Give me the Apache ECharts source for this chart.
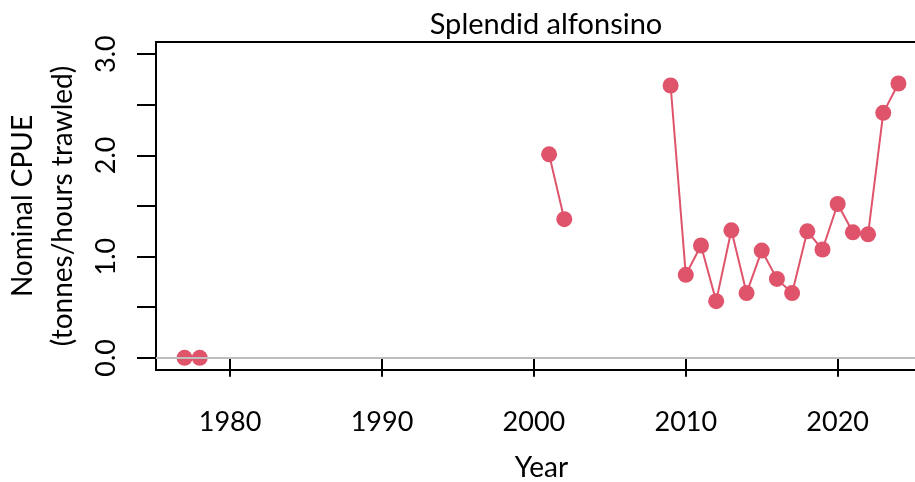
<!DOCTYPE html>
<html>
<head>
<meta charset="utf-8">
<script src="https://cdn.jsdelivr.net/npm/echarts@6/dist/echarts.min.js"></script>
<style>
html, body { margin: 0; padding: 0; background: #fff; }
#main { width: 915px; height: 482px; }
</style>
</head>
<body>
<div id="main"></div>
<script>
// years and nominal CPUE, null where no data
var years = [1977, 1978, 1979, 1980, 1981, 1982, 1983, 1984, 1985, 1986, 1987, 1988,
    1989, 1990, 1991, 1992, 1993, 1994, 1995, 1996, 1997, 1998, 1999, 2000,
    2001, 2002, 2003, 2004, 2005, 2006, 2007, 2008, 2009, 2010, 2011, 2012,
    2013, 2014, 2015, 2016, 2017, 2018, 2019, 2020, 2021, 2022, 2023, 2024];
var cpue = [0, 0, null, null, null, null, null, null, null, null, null, null,
    null, null, null, null, null, null, null, null, null, null, null, null,
    2.01, 1.37, null, null, null, null, null, null, 2.69, 0.82, 1.11, 0.56,
    1.26, 0.64, 1.06, 0.78, 0.64, 1.25, 1.07, 1.52, 1.24, 1.22, 2.42, 2.71];
var xTicks = [1980, 1990, 2000, 2010, 2020];
var yTicks = [0, 0.5, 1, 1.5, 2, 2.5, 3];
var yLabels = [0, 1, 2, 3];

var myChart = echarts.init(document.getElementById('main'));
var font = 'Lato';

var option = {
    animation: false,
    backgroundColor: '#fff',
    title: {
        text: 'Splendid alfonsino',
        left: 541,
        textAlign: 'center',
        top: 5,
        textStyle: { fontFamily: font, fontSize: 29, fontWeight: 'normal', color: '#000' }
    },
    grid: {
        left: 156,
        top: 42,
        right: -12,
        bottom: 112,
        outerBoundsMode: 'none',
        containLabel: false,
        show: true,
        borderColor: '#000',
        borderWidth: 2
    },
    xAxis: {
        type: 'value',
        min: 1975.12,
        max: 2025.88,
        name: 'Year',
        nameLocation: 'middle',
        nameGap: 84,
        nameTextStyle: { fontFamily: font, fontSize: 28, color: '#000' },
        splitLine: { show: false },
        axisLine: { show: false },
        axisTick: {
            show: true,
            length: 19,
            customValues: xTicks,
            lineStyle: { color: '#000', width: 2 }
        },
        axisLabel: {
            customValues: xTicks,
            margin: 39,
            fontFamily: font,
            fontSize: 27,
            color: '#000',
            formatter: function (v) { return String(v); }
        }
    },
    yAxis: {
        type: 'value',
        min: -0.12,
        max: 3.12,
        name: 'Nominal CPUE\n(tonnes/hours trawled)',
        nameLocation: 'middle',
        nameRotate: 90,
        nameGap: 73,
        nameTextStyle: { fontFamily: font, fontSize: 28, color: '#000', lineHeight: 40 },
        splitLine: { show: false },
        axisLine: { show: false },
        axisTick: {
            show: true,
            length: 19,
            customValues: yTicks,
            lineStyle: { color: '#000', width: 2 }
        },
        axisLabel: {
            customValues: yLabels,
            rotate: 90,
            margin: 36,
            fontFamily: font,
            fontSize: 27,
            color: '#000',
            formatter: function (v) { return v.toFixed(1); }
        }
    },
    series: [{
        type: 'line',
        data: years.map(function (y, i) { return [y, cpue[i]]; }),
        connectNulls: false,
        symbol: 'circle',
        symbolSize: 16,
        itemStyle: { color: '#DF536B' },
        lineStyle: { color: '#DF536B', width: 2 },
        markLine: {
            silent: true,
            symbol: 'none',
            label: { show: false },
            lineStyle: { color: '#BEBEBE', width: 2, type: 'solid' },
            data: [{ yAxis: 0 }]
        },
        z: 3
    }]
};

myChart.setOption(option);
</script>
</body>
</html>
